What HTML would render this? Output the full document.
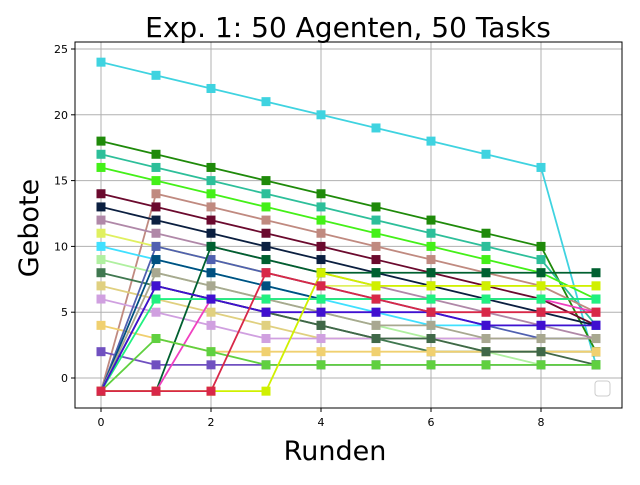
<!DOCTYPE html>
<html><head><meta charset="utf-8"><style>body{margin:0;background:#fff}svg text{font-family:"DejaVu Sans","Liberation Sans",sans-serif}</style></head>
<body>
<svg id="c" width="640" height="480">
<rect x="75" y="42" width="547" height="366" fill="#fff" stroke="none"/>
<g id="grid"></g><g id="series"></g>
<rect x="75" y="42" width="547" height="366" fill="none" stroke="#000" stroke-width="1"/>
<g id="ticks"></g>
<text x="348" y="37" font-size="28" text-anchor="middle">Exp. 1: 50 Agenten, 50 Tasks</text>
<text x="335" y="460" font-size="27" text-anchor="middle">Runden</text>
<text x="38" y="228" font-size="27" text-anchor="middle" transform="rotate(-90 38 228)">Gebote</text>
<rect x="595" y="381" width="15" height="15" rx="3" fill="#fff" stroke="#ccc"/>
</svg>
<script>
const xTicks=[0,2,4,6,8];
const yTicks=[0,5,10,15,20,25];
const colors=["#3fd3e0","#1f8a0a","#2dbf9a","#44f018","#c08a80","#6b0a2e","#0b1f40","#b088a8","#e0f060","#40e0ff","#b0f0a0","#407850","#e0d080","#d0a0e0","#f0d070","#7050c0","#5060b0","#005080","#a8a890","#406848","#006030","#f040c0","#20f080","#60d040","#4010d0","#d0f000","#d82848"];
const s0=[24,23,22,21,20,19,18,17,16,1];
const s1=[18,17,16,15,14,13,12,11,10,2];
const s2=[17,16,15,14,13,12,11,10,9,4];
const s3=[16,15,14,13,12,11,10,9,8,6];
const s4=[-1,14,13,12,11,10,9,8,7,5];
const s5=[14,13,12,11,10,9,8,7,6,4];
const s6=[13,12,11,10,9,8,7,6,5,4];
const s7=[12,11,10,9,8,7,6,5,4,3];
const s8=[11,10,9,8,7,7,7,7,7,7];
const s9=[10,9,8,7,6,5,4,4,4,4];
const s10=[9,8,7,6,5,4,3,2,1,1];
const s11=[8,7,6,5,4,3,2,2,2,2];
const s12=[7,6,5,4,3,3,3,3,3,3];
const s13=[6,5,4,3,3,3,3,3,3,3];
const s14=[4,3,2,2,2,2,2,2,2,2];
const s15=[2,1,1,1,1,1,1,1,1,1];
const s16=[-1,10,9,8,7,6,5,4,3,3];
const s17=[-1,9,8,7,6,6,6,6,6,6];
const s18=[-1,8,7,6,5,4,4,3,3,3];
const s19=[-1,7,6,5,4,3,3,2,2,1];
const s20=[-1,-1,10,9,8,8,8,8,8,8];
const s21=[-1,-1,6,6,6,6,6,6,6,5];
const s22=[-1,6,6,6,6,6,6,6,6,6];
const s23=[-1,3,2,1,1,1,1,1,1,1];
const s24=[-1,7,6,5,5,5,5,4,4,4];
const s25=[-1,-1,-1,-1,8,7,7,7,7,7];
const s26=[-1,-1,-1,8,7,6,5,5,5,5];
const series=[s0,s1,s2,s3,s4,s5,s6,s7,s8,s9,s10,s11,s12,s13,s14,s15,s16,s17,s18,s19,s20,s21,s22,s23,s24,s25,s26];
const NS="http://www.w3.org/2000/svg";
const X=v=>101+v*55, Y=v=>378-v*13.16;
const g=document.getElementById('grid'),t=document.getElementById('ticks'),sg=document.getElementById('series');
function mk(tag,a,p){const e=document.createElementNS(NS,tag);for(const k in a)e.setAttribute(k,a[k]);p.appendChild(e);return e;}
xTicks.forEach(v=>{const l=mk('line',{x1:X(v),x2:X(v),y1:42,y2:408,stroke:'#b0b0b0','stroke-width':1},g);


mk('line',{x1:X(v),x2:X(v),y1:408,y2:412,stroke:'#000'},t);
const tx=mk('text',{x:X(v),y:426,'font-size':11,'text-anchor':'middle'},t);tx.textContent=v;

});
yTicks.forEach(v=>{const l=mk('line',{x1:75,x2:622,y1:Y(v),y2:Y(v),stroke:'#b0b0b0','stroke-width':1},g);


mk('line',{x1:71,x2:75,y1:Y(v),y2:Y(v),stroke:'#000'},t);
const tx=mk('text',{x:68,y:Y(v)+4,'font-size':11,'text-anchor':'end'},t);tx.textContent=v;

});
series.forEach((s,i)=>{const grp=mk('g',{},sg);


const pl=mk('polyline',{points:s.map((v,j)=>X(j)+','+Y(v)).join(' '),fill:'none',stroke:colors[i],'stroke-width':1.8},grp);


s.forEach((v,j)=>{const r=mk('rect',{x:X(j)-4.5,y:Y(v)-4.5,width:9,height:9,fill:colors[i]},grp);

});});
</script>
</body></html>
